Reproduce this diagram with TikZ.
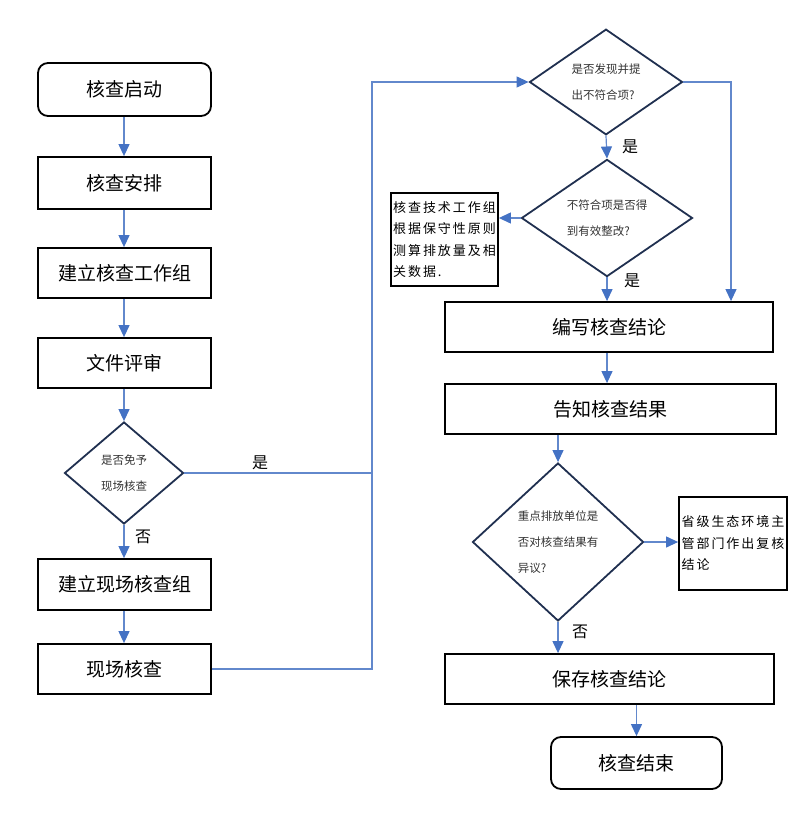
\documentclass[tikz,border=0pt]{standalone}
\usepackage{fontspec}
\setmainfont{Noto Sans CJK SC}
\newfontfamily\cjkw[LetterSpace=15]{Noto Sans CJK SC}
\usetikzlibrary{shapes.geometric,arrows.meta}
\definecolor{lineblue}{RGB}{68,114,196}
\definecolor{shaftblue}{RGB}{98,136,204}
\definecolor{navy}{RGB}{32,48,80}
\begin{document}
\begin{tikzpicture}[x=1pt,y=-1pt,
  box/.style={draw=black,line width=1.8pt,inner sep=0pt,font=\fontsize{19}{23}\selectfont},
  roundbox/.style={box,rounded corners=10pt},
  dia/.style={draw=navy,line width=1.8pt,shape=diamond,inner sep=0pt,align=left,text=black!80,font=\fontsize{11.5}{26}\selectfont},
  sidebox/.style={draw=black,line width=1.8pt,inner sep=1pt,align=left,font=\cjkw\fontsize{13}{21.5}\selectfont},
  conn/.style={draw=shaftblue,line width=1.2pt},
  arr/.style={conn,-{Triangle[width=11pt,length=12pt,color=lineblue]}},
  lbl/.style={font=\fontsize{16}{18}\selectfont,inner sep=0pt}]
\useasboundingbox (0,0) rectangle (809,821);
% left column
\node[roundbox,minimum width=173pt,minimum height=53pt] (start) at (124.5,89.5) {核查启动};
\node[box,minimum width=173pt,minimum height=52pt] (arrange) at (124.5,183) {核查安排};
\node[box,minimum width=173pt,minimum height=50pt] (group) at (124.5,273) {建立核查工作组};
\node[box,minimum width=173pt,minimum height=50pt] (review) at (124.5,363) {文件评审};
\node[dia,minimum width=119pt,minimum height=102pt] (d0) at (124,473) {是否免予\\现场核查};
\node[box,minimum width=173pt,minimum height=51pt] (sgroup) at (124.5,584.5) {建立现场核查组};
\node[box,minimum width=173pt,minimum height=50pt] (site) at (124.5,669) {现场核查};
% right column
\node[dia,minimum width=153pt,minimum height=100pt] (d1) at (606,82) {是否发现并提\\出不符合项?};
\node[dia,minimum width=171pt,minimum height=104pt] (d2) at (607,218) {不符合项是否得\\到有效整改?};
\node[sidebox,minimum width=107pt,minimum height=93pt] (side1) at (444.5,239.5) {核查技术工作组\\根据保守性原则\\测算排放量及相\\关数据.};
\node[box,minimum width=328pt,minimum height=50pt] (write) at (609,327) {编写核查结论};
\node[box,minimum width=331pt,minimum height=50pt] (inform) at (610.5,409) {告知核查结果};
\node[dia,minimum width=171pt,minimum height=158pt] (d3) at (558,542) {重点排放单位是\\否对核查结果有\\异议?};
\node[sidebox,minimum width=108pt,minimum height=93pt] (side2) at (733,543.5) {省级生态环境主\\管部门作出复核\\结论};
\node[box,minimum width=329pt,minimum height=50pt] (save) at (609.5,679) {保存核查结论};
\node[roundbox,minimum width=171pt,minimum height=52pt] (end) at (636.5,763) {核查结束};
% left connectors
\draw[arr] (start.south -| d0.north) -- (arrange.north -| d0.north);
\draw[arr] (arrange.south -| d0.north) -- (group.north -| d0.north);
\draw[arr] (group.south -| d0.north) -- (review.north -| d0.north);
\draw[arr] (review.south -| d0.north) -- (d0.north);
\draw[arr] (d0.south) -- (sgroup.north -| d0.south);
\draw[arr] (sgroup.south -| d0.south) -- (site.north -| d0.south);
\coordinate (j1) at (372,669);
\coordinate (j2) at (372,82);
\draw[arr] (site.east) -- (j1) -- (j2) -- (d1.west);
\draw[conn] (d0.east) -- (d0.east -| j1);
% right connectors
\coordinate (j3) at (731,82);
\draw[arr] (d1.east) -- (j3) -- (j3 |- write.north);
\draw[arr] (d1.south) -- (d2.north);
\draw[arr] (d2.west) -- (d2.west -| side1.east);
\draw[arr] (d2.south) -- (d2.south |- write.north);
\draw[arr] (d2.south |- write.south) -- (d2.south |- inform.north);
\draw[arr] (d3.north |- inform.south) -- (d3.north);
\draw[arr] (d3.east) -- (d3.east -| side2.west);
\draw[arr] (d3.south) -- (d3.south |- save.north);
\draw[arr] (end.north |- save.south) -- (end.north);
% labels
\node[lbl] (l1) at (260,463) {是};
\node[lbl] (l2) at (143,537) {否};
\node[lbl] (l3) at (630,147) {是};
\node[lbl] (l4) at (632,281) {是};
\node[lbl] (l5) at (580,632) {否};
\end{tikzpicture}
\end{document}
